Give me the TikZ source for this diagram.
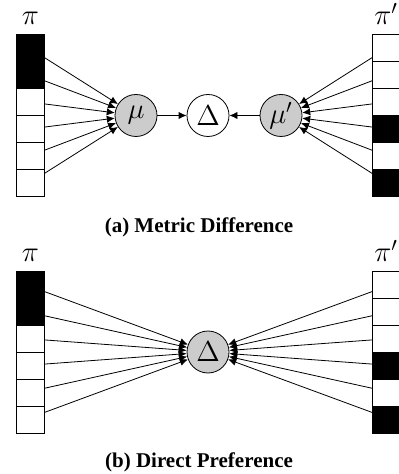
\documentclass[tikz,border=0pt]{standalone}
\usepackage{fix-cm}
\usepackage{fontspec}
\setmainfont{Liberation Serif}
\usetikzlibrary{arrows.meta,positioning}
\definecolor{estgray}{gray}{0.8}

\begin{document}
\begin{tikzpicture}[x=0.5pt,y=-0.5pt,
  cell/.style={draw,fill=white,minimum width=13.8pt,minimum height=13.53pt,
               inner sep=0pt,outer sep=0pt},
  blk/.style={cell,fill=black},
  est/.style={draw,circle,fill=estgray,minimum size=21pt,inner sep=0pt,
              font=\Large},
  lbl/.style={anchor=base,font=\Large},
  tip/.style={-{Latex[length=4pt,width=3.6pt]}},
  captxt/.style={anchor=base,font=\fontsize{10.5}{12}\selectfont\bfseries}]
\useasboundingbox (0,0) rectangle (398,474);
% (a) metric difference
\foreach \k/\s in {1/blk,2/blk,3/cell,4/cell,5/cell,6/cell}
  \node[\s] (aL\k) at (30.5,{34.3+27.07*(\k-0.5)}) {};
\foreach \k/\s in {1/cell,2/cell,3/cell,4/blk,5/cell,6/blk}
  \node[\s] (aR\k) at (386.1,{34.3+27.07*(\k-0.5)}) {};
\node[lbl] (apiL) at (30.5,25) {$\pi$};
\node[lbl] (apiR) at (386.1,25) {$\pi'$};
\node[est] (mu) at (136,115.5) {$\mu$};
\node[est,fill=white] (Da) at (208,115.5) {$\Delta$};
\node[est] (mup) at (281,115.5) {$\mu'$};
\foreach \k in {1,...,6}{
  \coordinate (aeL\k) at (44.3,{115.5+23.2*(\k-3.5)});
  \coordinate (aeR\k) at (372.3,{115.5+23.2*(\k-3.5)});
  \draw[tip] (aeL\k) -- (mu);
  \draw[tip] (aeR\k) -- (mup);
}
\draw[tip] (mu) -- (Da);
\draw[tip] (mup) -- (Da);
\node[captxt] (capa) at (199,233) {(a) Metric Difference};
% (b) direct preference
\foreach \k/\s in {1/blk,2/blk,3/cell,4/cell,5/cell,6/cell}
  \node[\s] (bL\k) at (30.5,{271.3+27.07*(\k-0.5)}) {};
\foreach \k/\s in {1/cell,2/cell,3/cell,4/blk,5/cell,6/blk}
  \node[\s] (bR\k) at (386.1,{271.3+27.07*(\k-0.5)}) {};
\node[lbl] (bpiL) at (30.5,262) {$\pi$};
\node[lbl] (bpiR) at (386.1,262) {$\pi'$};
\node[est] (Db) at (208,352) {$\Delta$};
\foreach \k in {1,...,6}{
  \coordinate (beL\k) at (44.3,{352+24.2*(\k-3.5)});
  \coordinate (beR\k) at (372.3,{352+24.2*(\k-3.5)});
  \draw[tip] (beL\k) -- (Db);
  \draw[tip] (beR\k) -- (Db);
}
\node[captxt] (capb) at (199,467) {(b) Direct Preference};
\end{tikzpicture}
\end{document}
